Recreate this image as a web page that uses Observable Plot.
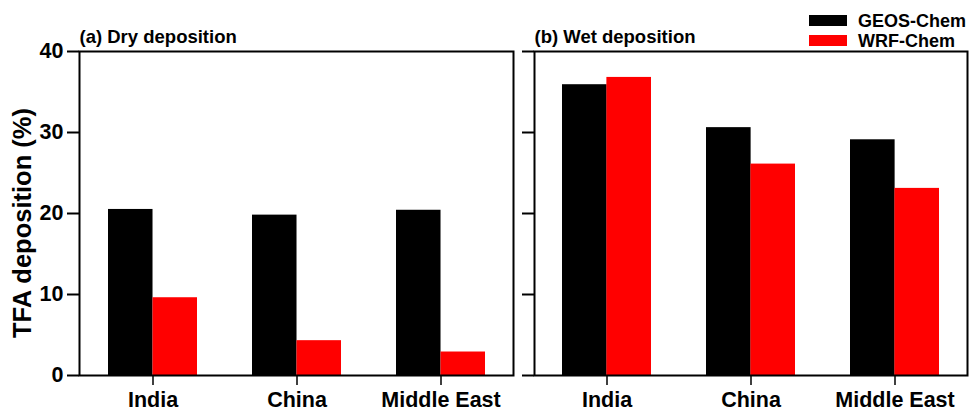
<!DOCTYPE html>
<html>
<head>
<meta charset="utf-8">
<script src="https://cdn.jsdelivr.net/npm/d3@7"></script>
<script src="https://cdn.jsdelivr.net/npm/@observablehq/plot@0.6"></script>
<style>
  html, body { margin: 0; padding: 0; background: #fff; }
  #chart { position: relative; width: 969px; height: 412px; overflow: hidden;
           font-family: "Liberation Sans", Arial, Helvetica, sans-serif; font-weight: bold; color: #000; }
  #chart svg { position: absolute; top: 0; overflow: visible; }
  .ylabel { position: absolute; left: 23px; top: 223px; font-size: 25.5px; line-height: 25.5px;
            white-space: nowrap; transform: translate(-50%, -50%) rotate(-90deg); }
  .legend-item { position: absolute; font-size: 18px; line-height: 18px; white-space: nowrap; }
  .legend-swatch { position: absolute; width: 38px; height: 11px; }
</style>
</head>
<body>
<div id="chart"></div>
<script>
// Regions and deposition shares (%) for each model
const regions = ["India", "China", "Middle East"];
const series = ["GEOS-Chem", "WRF-Chem"];
const seriesColors = ["#000000", "#ff0000"];
const dryGeos = [20.5, 19.8, 20.4];
const dryWrf = [9.6, 4.3, 2.9];
const wetGeos = [35.9, 30.6, 29.1];
const wetWrf = [36.8, 26.1, 23.1];
const yTicks = [0, 10, 20, 30, 40];
const panelTitles = ["(a) Dry deposition", "(b) Wet deposition"];

const fontFamily = '"Liberation Sans", Arial, Helvetica, sans-serif';
const chart = document.getElementById("chart");

function panel({title, geos, wrf, width, marginLeft, marginRight, showLabels}) {
  const rows = regions.map((r, i) => ({region: r, geos: geos[i], wrf: wrf[i]}));
  const padInner = 0.385;
  const innerW = width - marginLeft - marginRight;
  const bandW = innerW / regions.length * (1 - padInner);
  return Plot.plot({
    width,
    height: 412,
    marginLeft,
    marginRight,
    marginTop: 51,
    marginBottom: 37,
    style: {fontFamily, fontWeight: "bold", fontSize: "21.5px", color: "#000", background: "transparent"},
    x: {domain: regions, paddingInner: padInner, paddingOuter: padInner / 2, label: null},
    y: {domain: [0, 40], label: null},
    marks: [
      Plot.barY(rows, {x: "region", y: "geos", fill: seriesColors[0], insetRight: bandW / 2}),
      Plot.barY(rows, {x: "region", y: "wrf", fill: seriesColors[1], insetLeft: bandW / 2}),
      Plot.axisX({tickSize: 10, tickPadding: 6, strokeWidth: 1.5, label: null}),
      Plot.axisY({ticks: yTicks, tickSize: 12, tickPadding: 4, strokeWidth: 2,
                  tickFormat: showLabels ? (d => d) : (() => ""), label: null}),
      Plot.frame({strokeWidth: 2}),
      Plot.text([title], {text: d => d, frameAnchor: "top-left", lineAnchor: "bottom",
                          dy: -9, fontSize: 18.5, fontWeight: "bold"})
    ]
  });
}

const dry = panel({title: panelTitles[0], geos: dryGeos, wrf: dryWrf,
                   width: 518, marginLeft: 79, marginRight: 5, showLabels: true});
dry.style.left = "0px";
chart.appendChild(dry);

const wet = panel({title: panelTitles[1], geos: wetGeos, wrf: wetWrf,
                   width: 451, marginLeft: 16, marginRight: 2, showLabels: false});
wet.style.left = "518px";
chart.appendChild(wet);

// Shared y-axis title
const yl = document.createElement("div");
yl.className = "ylabel";
yl.textContent = "TFA deposition (%)";
chart.appendChild(yl);

// Legend
series.forEach((name, i) => {
  const sw = document.createElement("div");
  sw.className = "legend-swatch";
  sw.style.background = seriesColors[i];
  sw.style.left = "809px";
  sw.style.top = (15 + i * 20) + "px";
  chart.appendChild(sw);
  const lab = document.createElement("div");
  lab.className = "legend-item";
  lab.textContent = name;
  lab.style.left = "858px";
  lab.style.top = (12 + i * 20) + "px";
  chart.appendChild(lab);
});
</script>
</body>
</html>
